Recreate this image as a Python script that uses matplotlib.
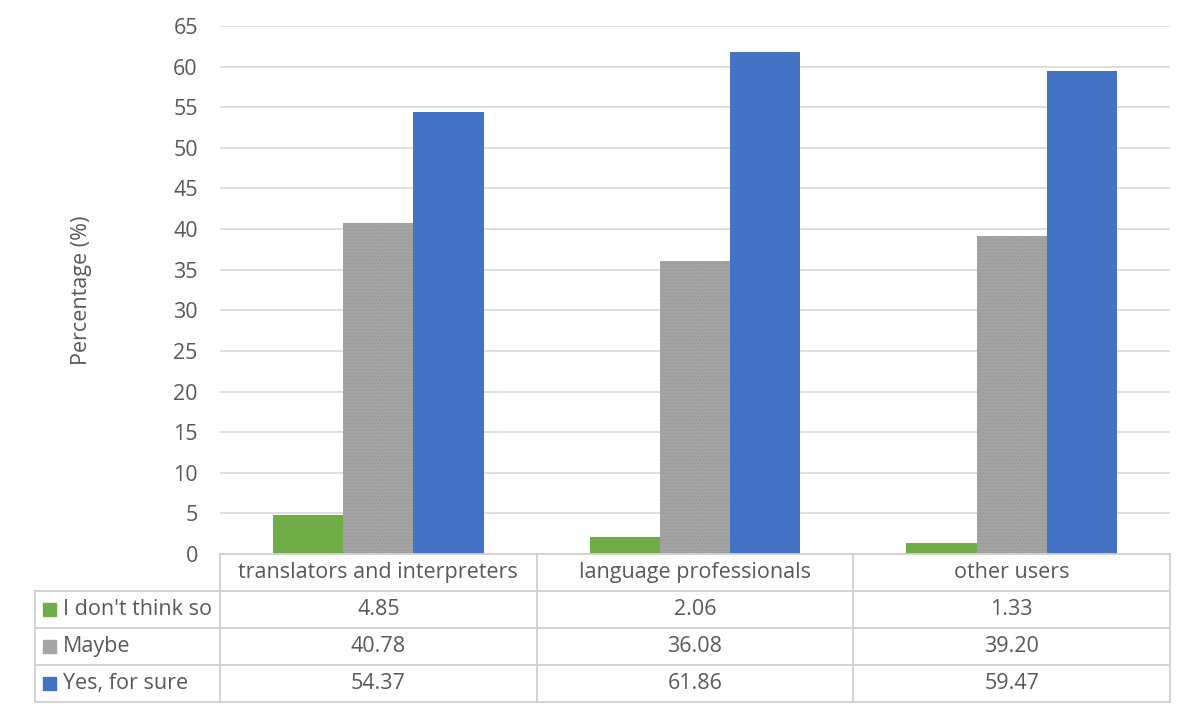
import numpy as np
import matplotlib
matplotlib.use('Agg')
import matplotlib.pyplot as plt
from matplotlib.patches import Rectangle

# data
categories = ['translators and interpreters', 'language professionals', 'other users']
series_names = ["I don't think so", 'Maybe', 'Yes, for sure']
dont_think = [4.85, 2.06, 1.33]
maybe = [40.78, 36.08, 39.20]
yes_sure = [54.37, 61.86, 59.47]
colors = ['#70AD47', '#A5A5A5', '#4472C4']
yticks = list(range(0, 70, 5))

plt.rcParams['font.family'] = ['Open Sans', 'DejaVu Sans']
text_color = '#595959'
grid_color = '#D9D9D9'
fs = 15.5

W, H = 1193, 714
fig = plt.figure(figsize=(W / 100, H / 100), dpi=100)

# plot area in pixels
x0, x1, y_top, y_zero = 220, 1170, 26, 554
ax = fig.add_axes([x0 / W, 1 - y_zero / H, (x1 - x0) / W, (y_zero - y_top) / H])

series = [dont_think, maybe, yes_sure]
n = len(categories)
bw = 0.222
x = np.arange(n)
for i, (vals, c) in enumerate(zip(series, colors)):
    kw = {}
    if i == 1:
        kw = dict(hatch='.....', edgecolor='#999999', linewidth=0)
    ax.bar(x + (i - 1) * bw, vals, width=bw, color=c, zorder=3, **kw)

ax.set_xlim(-0.5, n - 0.5)
ax.set_ylim(0, 65)
ax.set_yticks(yticks)
ax.set_yticklabels([str(t) for t in yticks], fontsize=fs, color=text_color)
ax.tick_params(axis='y', length=0, pad=16)
ax.set_xticks([])
ax.grid(axis='y', color=grid_color, linewidth=1.2, zorder=0)
for s in ax.spines.values():
    s.set_visible(False)
ax.set_ylabel('Percentage (%)', fontsize=fs, color=text_color)
ax.yaxis.set_label_coords((92 - x0) / (x1 - x0), 0.5)

# data table drawn in pixel coordinates
tab = fig.add_axes([0, 0, 1, 1], facecolor='none')
tab.set_xlim(0, W)
tab.set_ylim(H, 0)
tab.axis('off')

col_edges = np.linspace(x0, x1, n + 1)
row_h = 37
label_left = 35
lc = '#D0D0D0'
lw = 1.3

# header row
hdr_top, hdr_bot = y_zero, y_zero + row_h
tab.plot([x0, x1], [hdr_top, hdr_top], color=lc, lw=lw)
for xe in col_edges:
    tab.plot([xe, xe], [hdr_top, hdr_bot + row_h * len(series)], color=lc, lw=lw)
for j, cat in enumerate(categories):
    tab.text((col_edges[j] + col_edges[j + 1]) / 2, hdr_top + row_h / 2, cat,
             ha='center', va='center', fontsize=fs, color=text_color)

# body rows
for r in range(len(series) + 1):
    yy = hdr_bot + r * row_h
    tab.plot([label_left, x1], [yy, yy], color=lc, lw=lw)
tab.plot([label_left, label_left], [hdr_bot, hdr_bot + row_h * len(series)], color=lc, lw=lw)

for r, (name, vals, c) in enumerate(zip(series_names, series, colors)):
    yc = hdr_bot + r * row_h + row_h / 2
    tab.add_patch(Rectangle((43, yc - 6.5), 13, 13, color=c))
    tab.text(63, yc, name, ha='left', va='center', fontsize=fs, color=text_color)
    for j, v in enumerate(vals):
        tab.text((col_edges[j] + col_edges[j + 1]) / 2, yc, f'{v:.2f}',
                 ha='center', va='center', fontsize=fs, color=text_color)

fig.savefig('out.png', dpi=100)
